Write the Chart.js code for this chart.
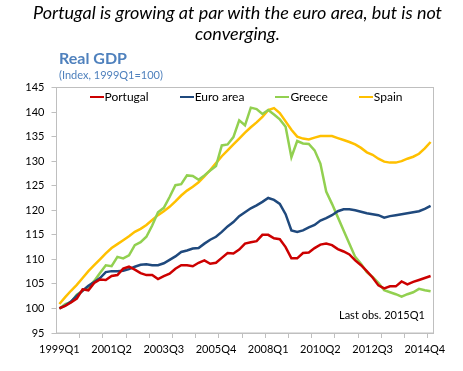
<!DOCTYPE html>
<html>
<head>
<meta charset="utf-8">
<script src="https://cdn.jsdelivr.net/npm/chart.js@4.4.1/dist/chart.umd.min.js"></script>
<style>
  body { margin: 0; background: #fff; font-family: Lato, "Open Sans", sans-serif; }
  #wrap { position: relative; width: 463px; height: 371px; overflow: hidden; }
  #chart { position: absolute; left: 0; top: 0; }
  .heading { position: absolute; left: 6px; top: 2px; width: 463px; text-align: center;
             font-style: italic; font-size: 18px; line-height: 21px; color: #000; }
  .title { position: absolute; left: 59px; top: 48px; font-weight: bold; font-size: 16px;
           line-height: 20px; color: #4f81bd; }
  .subtitle { position: absolute; left: 59px; top: 68px; font-size: 11px; line-height: 14px; color: #4f81bd; }
  .legend { position: absolute; left: 57px; top: 90px; width: 378px; display: flex;
            justify-content: center; gap: 31px; font-size: 12px; line-height: 14px; color: #000; }
  .legend span.item { display: flex; align-items: center; }
  .legend span.mark { display: inline-block; width: 14px; height: 2.5px; margin-right: 1px; }
  .note { position: absolute; left: 339px; top: 308px; font-size: 11px; line-height: 14px; color: #000; }
</style>
</head>
<body>
<div id="wrap">
  <canvas id="chart" width="463" height="371"></canvas>
  <div class="heading">Portugal is growing at par with the euro area, but is not<br>converging.</div>
  <div class="title">Real GDP</div>
  <div class="subtitle">(Index, 1999Q1=100)</div>
  <div class="legend" id="legend"></div>
  <div class="note">Last obs. 2015Q1</div>
</div>
<script>
// quarters 1999Q1 .. 2015Q1
const quarters = [
  "1999Q1","1999Q2","1999Q3","1999Q4","2000Q1","2000Q2","2000Q3","2000Q4",
  "2001Q1","2001Q2","2001Q3","2001Q4","2002Q1","2002Q2","2002Q3","2002Q4",
  "2003Q1","2003Q2","2003Q3","2003Q4","2004Q1","2004Q2","2004Q3","2004Q4",
  "2005Q1","2005Q2","2005Q3","2005Q4","2006Q1","2006Q2","2006Q3","2006Q4",
  "2007Q1","2007Q2","2007Q3","2007Q4","2008Q1","2008Q2","2008Q3","2008Q4",
  "2009Q1","2009Q2","2009Q3","2009Q4","2010Q1","2010Q2","2010Q3","2010Q4",
  "2011Q1","2011Q2","2011Q3","2011Q4","2012Q1","2012Q2","2012Q3","2012Q4",
  "2013Q1","2013Q2","2013Q3","2013Q4","2014Q1","2014Q2","2014Q3","2014Q4",
  "2015Q1"
];

const portugal = [
  100.0, 100.5, 101.2, 102.0, 103.9, 103.7, 105.2, 105.9, 105.8, 106.6,
  106.8, 108.1, 108.5, 107.9, 107.2, 106.8, 106.8, 106.0, 106.6, 107.1,
  108.1, 108.8, 108.8, 108.6, 109.3, 109.8, 109.1, 109.3, 110.3, 111.3,
  111.2, 112.0, 113.2, 113.5, 113.7, 115.0, 115.0, 114.3, 114.1, 112.5,
  110.2, 110.2, 111.3, 111.4, 112.3, 113.0, 113.2, 112.9, 112.1, 111.6,
  111.0, 109.8, 108.8, 107.6, 106.3, 104.7, 104.1, 104.5, 104.5, 105.5,
  104.9, 105.4, 105.8, 106.2, 106.6
];

const euroArea = [
  100.0, 100.6, 101.4, 102.6, 103.6, 104.6, 105.4, 106.2, 107.4, 107.6,
  107.6, 107.7, 108.0, 108.5, 108.9, 109.0, 108.8, 108.8, 109.2, 109.9,
  110.6, 111.5, 111.8, 112.2, 112.3, 113.2, 114.0, 114.6, 115.6, 116.7,
  117.6, 118.8, 119.6, 120.4, 121.0, 121.7, 122.5, 122.1, 121.3, 119.2,
  115.9, 115.6, 115.9, 116.5, 117.0, 117.9, 118.4, 119.0, 119.8, 120.2,
  120.2, 120.0, 119.7, 119.4, 119.2, 119.0, 118.5, 118.8, 119.0, 119.2,
  119.4, 119.6, 119.8, 120.3, 120.9
];

const greece = [
  100.0, 100.9, 101.3, 102.8, 103.6, 104.3, 105.6, 107.2, 108.8, 108.6,
  110.5, 110.2, 110.8, 112.9, 113.5, 114.6, 116.9, 119.6, 120.5, 122.7,
  125.1, 125.3, 127.1, 127.0, 126.2, 127.1, 128.1, 129.0, 133.2, 133.4,
  134.9, 138.3, 137.3, 140.9, 140.6, 139.6, 140.4, 139.5, 138.5, 137.0,
  130.8, 134.1, 133.6, 133.5, 132.2, 129.5, 123.8, 121.3, 118.6, 115.9,
  113.2, 110.5, 109.1, 107.4, 106.4, 105.2, 103.7, 103.3, 102.9, 102.4,
  102.9, 103.3, 104.0, 103.7, 103.5
];

const spain = [
  100.9, 102.3, 103.6, 104.8, 106.2, 107.6, 108.8, 110.0, 111.2, 112.3,
  113.1, 113.9, 114.7, 115.6, 116.2, 117.0, 118.0, 119.0, 119.8, 120.7,
  121.8, 123.0, 124.0, 124.8, 125.7, 126.9, 128.2, 129.6, 131.0, 132.2,
  133.4, 134.6, 135.8, 136.9, 137.9, 139.0, 140.4, 140.8, 139.8, 138.1,
  136.4, 135.0, 134.6, 134.4, 134.8, 135.1, 135.1, 135.1, 134.7, 134.3,
  133.9, 133.4, 132.7, 131.8, 131.3, 130.5, 129.9, 129.7, 129.7, 130.0,
  130.5, 130.9, 131.5, 132.6, 133.9
];

const seriesNames = ["Portugal", "Euro area", "Greece", "Spain"];
const seriesData = [portugal, euroArea, greece, spain];
const seriesColors = ["#cc0000", "#1f497d", "#92d050", "#ffc000"];

const axisGray = "#bfbfbf";

// legend inside the plot, like the original
const legendEl = document.getElementById("legend");
seriesNames.forEach((name, i) => {
  const item = document.createElement("span");
  item.className = "item";
  item.innerHTML = '<span class="mark" style="background:' + seriesColors[i] + '"></span>' + name;
  legendEl.appendChild(item);
});

// box around the plot area
const frame = {
  id: "frame",
  beforeDatasetsDraw(chart) {
    const a = chart.chartArea;
    const c = chart.ctx;
    c.save();
    c.strokeStyle = axisGray;
    c.lineWidth = 1;
    c.strokeRect(a.left, a.top, a.right - a.left, a.bottom - a.top);
    c.restore();
  }
};

Chart.defaults.font.family = "Lato, 'Open Sans', sans-serif";

const ctx = document.getElementById("chart").getContext("2d");

new Chart(ctx, {
  type: "line",
  data: {
    labels: quarters,
    datasets: seriesNames.map((name, i) => ({
      label: name,
      data: seriesData[i],
      borderColor: seriesColors[i],
      backgroundColor: seriesColors[i],
      borderWidth: 2.5,
      pointRadius: 0,
      tension: 0,
      fill: false
    }))
  },
  options: {
    responsive: false,
    animation: false,
    layout: {
      padding: { top: 87.5, right: 29.5, left: 0, bottom: 0 }
    },
    plugins: {
      legend: { display: false },
      tooltip: { enabled: false }
    },
    scales: {
      x: {
        offset: true,
        grid: {
          offset: true,
          drawOnChartArea: false,
          tickLength: 5,
          color: (c) => (c.index > 0 && c.index % 4 === 0) ? axisGray : "rgba(0,0,0,0)"
        },
        border: { color: axisGray },
        ticks: {
          autoSkip: false,
          maxRotation: 0,
          padding: 5,
          color: "#000",
          font: { size: 11 },
          callback: (v, i) => (i % 9 === 0 ? quarters[i] : "")
        },
        afterFit: (s) => { s.height = 38; }
      },
      y: {
        min: 95,
        max: 145,
        ticks: { stepSize: 5, padding: 7, color: "#000", font: { size: 11 } },
        grid: { drawOnChartArea: false, tickLength: 5, color: axisGray },
        border: { color: axisGray },
        afterFit: (s) => { s.width = 56.5; }
      }
    }
  },
  plugins: [frame]
});
</script>
</body>
</html>
